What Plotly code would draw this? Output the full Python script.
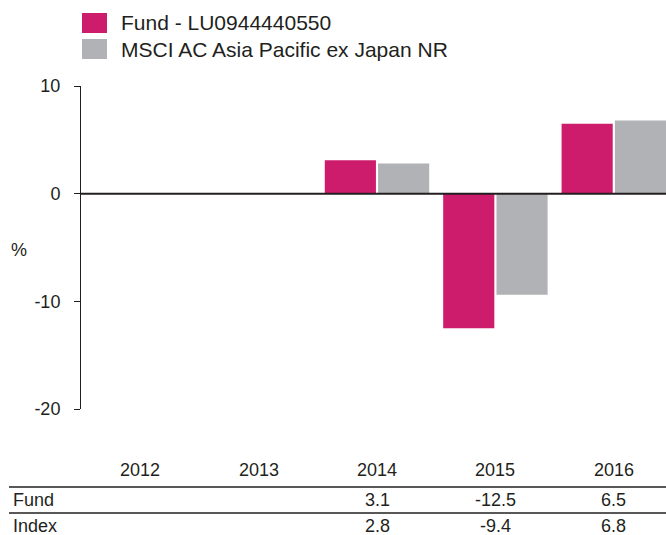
import plotly.graph_objects as go

years = ["2012", "2013", "2014", "2015", "2016"]
fund = [None, None, 3.1, -12.5, 6.5]
index = [None, None, 2.8, -9.4, 6.8]
fund_name = "Fund - LU0944440550"
index_name = "MSCI AC Asia Pacific ex Japan NR"
row_labels = ["Fund", "Index"]
y_ticks = [10, 0, -10, -20]
y_tick_text = ["10", "0", "-10", "-20"]

FUND_C = "#cc1c6b"
INDEX_C = "#b1b2b5"
TXT = "#231f20"
FONT = "Liberation Sans, Arial, Helvetica, sans-serif"

W, H = 666, 535
L, T = 81, 86
B = H - 409
CAT_PX = 118.4
R = 0
ph = H - T - B
pw = W - L - R


def py(p):
    return (H - B - p) / ph


def px(p):
    return (p - L) / pw


fig = go.Figure()
fig.add_trace(go.Bar(x=years, y=fund, name=fund_name, marker=dict(color=FUND_C, line=dict(width=0))))
fig.add_trace(go.Bar(x=years, y=index, name=index_name, marker=dict(color=INDEX_C, line=dict(width=0))))

ann = []
shapes = []
for i, y in enumerate(years):
    ann.append(dict(x=i, y=py(470), xref="x", yref="paper", text=y, showarrow=False,
                    xanchor="center", yanchor="middle", font=dict(size=18, color=TXT)))


def fmt(v):
    return "" if v is None else f"{v:.1f}"


for row, vals, yp in [(row_labels[0], fund, 500), (row_labels[1], index, 526)]:
    ann.append(dict(x=px(11), y=py(yp), xref="paper", yref="paper", text=row, showarrow=False,
                    xanchor="left", yanchor="middle", font=dict(size=18, color=TXT)))
    for i, v in enumerate(vals):
        if v is not None:
            ann.append(dict(x=i, y=py(yp), xref="x", yref="paper", text=fmt(v), showarrow=False,
                            xanchor="center", yanchor="middle", font=dict(size=18, color=TXT)))
for ly in (487, 513):
    shapes.append(dict(type="line", xref="paper", yref="paper", x0=px(9), x1=1, y0=py(ly), y1=py(ly),
                       line=dict(color=TXT, width=1.5)))

shapes.append(dict(type="line", xref="paper", yref="y", x0=0, x1=1, y0=0, y1=0,
                   line=dict(color=TXT, width=2), layer="above"))

for (name, col, top, mid) in [(fund_name, FUND_C, 13, 23), (index_name, INDEX_C, 39, 49)]:
    shapes.append(dict(type="rect", xref="paper", yref="paper", x0=px(82), x1=px(107),
                       y0=py(top), y1=py(top + 20), fillcolor=col, line=dict(width=0)))
    ann.append(dict(x=px(119), y=py(mid), xref="paper", yref="paper", text=name, showarrow=False,
                    xanchor="left", yanchor="middle", font=dict(size=21, color=TXT)))

ann.append(dict(x=px(19), y=py(250), xref="paper", yref="paper", text="%", showarrow=False,
                xanchor="center", yanchor="middle", font=dict(size=18, color=TXT)))

fig.update_layout(
    width=W, height=H,
    margin=dict(l=L, r=R, t=T, b=B, pad=0),
    paper_bgcolor="white", plot_bgcolor="white",
    font=dict(family=FONT, color=TXT, size=18),
    showlegend=False,
    hovermode=False,
    barmode="group", bargap=0.1, bargroupgap=0.04,
    annotations=ann, shapes=shapes,
    xaxis=dict(type="category", range=[-0.5, -0.5 + pw / CAT_PX], showticklabels=False, showgrid=False,
               zeroline=False, showline=False, ticks="", fixedrange=True),
    yaxis=dict(range=[-20, 10], tickvals=y_ticks, ticktext=y_tick_text, showgrid=False, zeroline=False,
               showline=True, linecolor=TXT, linewidth=1,
               ticks="outside", ticklen=6, tickcolor=TXT, tickwidth=1, ticklabelstandoff=10,
               tickfont=dict(size=18, color=TXT), fixedrange=True),
)

fig.write_html(
    "out.html",
    config={"displayModeBar": False, "staticPlot": True},
    post_script="document.body.style.margin='0';document.body.style.overflow='hidden';",
)
